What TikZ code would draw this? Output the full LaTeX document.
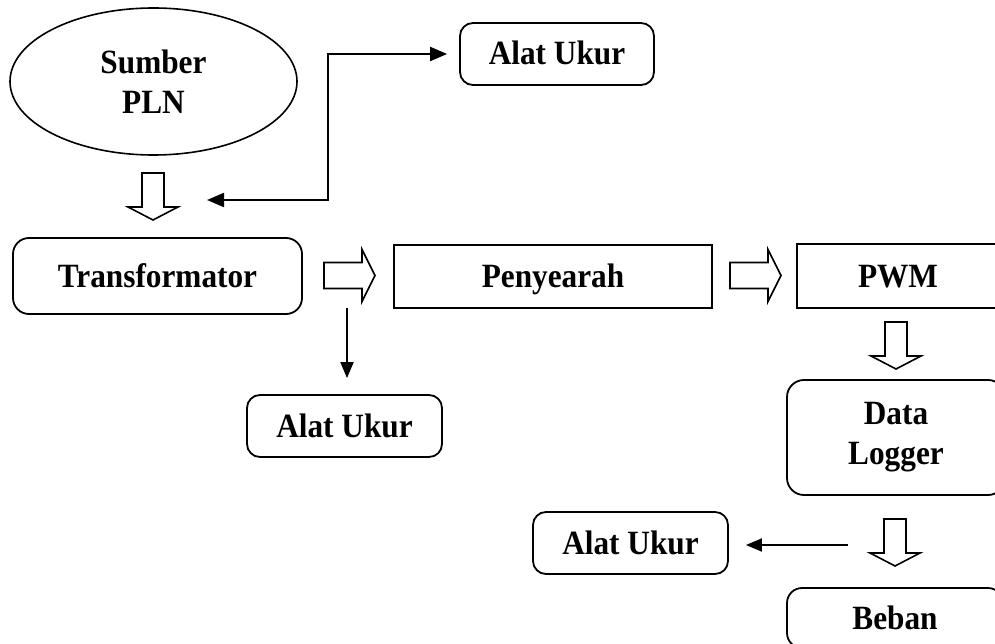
\documentclass[tikz,border=0pt]{standalone}
\usepackage{fontspec}
\setmainfont{Liberation Serif}[FakeStretch=0.92]
\usetikzlibrary{arrows.meta,shapes.geometric}
\tikzset{
  lbl/.style={font=\fontsize{34}{40}\selectfont\bfseries, align=center, inner sep=0pt},
  oneline/.style={text height=23pt, text depth=1pt},
  rbox/.style={lbl, draw, line width=1.8pt, rounded corners=13pt},
  sbox/.style={lbl, draw, line width=1.8pt},
  conn/.style={line width=1.9pt, -{Triangle[length=16pt,width=13pt]}},
  hollow/.style={draw, line width=1.6pt, fill=white},
  rarrow/.pic={\draw[hollow] (0,-13) -- (38,-13) -- (38,-26) -- (51,0) -- (38,26) -- (38,13) -- (0,13) -- cycle;},
  darrow/.pic={\draw[hollow] (-11,0) -- (-11,34) -- (-25,34) -- (0,47) -- (25,34) -- (11,34) -- (11,0) -- cycle;}
}
\begin{document}
\begin{tikzpicture}[x=1pt,y=-1pt]
\useasboundingbox (0,0) rectangle (995,644);
\clip (0,0) rectangle (995,644);
\fill[white] (0,0) rectangle (995,644);

\node[lbl, draw, line width=1.6pt, ellipse, minimum width=287pt, minimum height=147pt] (sumber) at (153.5,81.5) {Sumber\\PLN};
\node[rbox, oneline, minimum width=194pt, minimum height=62pt] (ukur1) at (557,54) {Alat Ukur};
\node[rbox, oneline, rounded corners=16pt, minimum width=289pt, minimum height=76pt] (trafo) at (157.5,276) {Transformator};
\node[sbox, oneline, minimum width=318pt, minimum height=63pt] (peny) at (553,276.5) {Penyearah};
\node[sbox, oneline, minimum width=202pt, minimum height=64pt] (pwm) at (898,276) {PWM};
\node[rbox, rounded corners=17pt, minimum width=218pt, minimum height=115pt] (logger) at (896,437.5) {Data\\Logger};
\node[rbox, oneline, rounded corners=15pt, minimum width=216pt, minimum height=60pt] (beban) at (895,618) {Beban};
\node[rbox, oneline, minimum width=195pt, minimum height=62pt] (ukur2) at (344.5,426) {Alat Ukur};
\node[rbox, oneline, minimum width=195pt, minimum height=62pt] (ukur3) at (630.5,543) {Alat Ukur};

% hollow block arrows
\pic at (153,173) {darrow};
\pic at (324,275.5) {rarrow};
\pic at (730,275.5) {rarrow};
\pic at (896,322) {darrow};
\pic at (895,519) {darrow};

% line connectors
\coordinate (k1) at (207,200);
\coordinate (k2) at (328,200);
\coordinate (k3) at (347,308);
\coordinate (k4) at (848,545);
\draw[conn, line width=2.2pt, {Triangle[length=17pt,width=14pt]}-{Triangle[length=17pt,width=14pt]}, shorten >=12pt] (k1) -- (k2) |- (ukur1.west);
\draw[conn, shorten >=16pt] (k3) -- (k3 |- ukur2.north);
\draw[conn, shorten >=17pt] (k4) -- (k4 -| ukur3.east);
\end{tikzpicture}
\end{document}
